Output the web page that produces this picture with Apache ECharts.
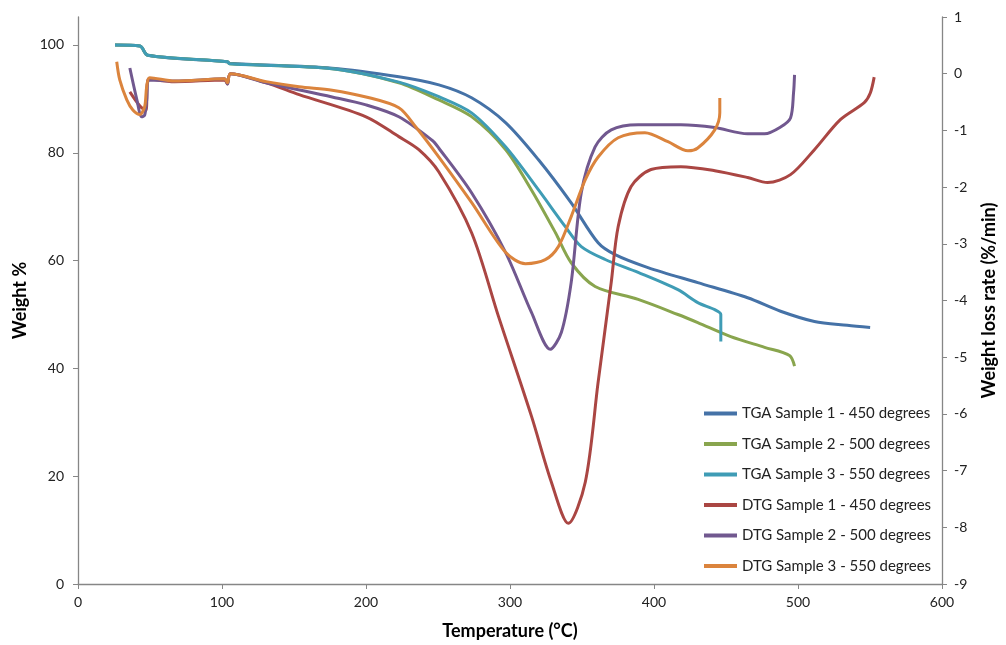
<!DOCTYPE html>
<html>
<head>
<meta charset="utf-8">
<script src="https://cdn.jsdelivr.net/npm/echarts@6/dist/echarts.min.js"></script>
<style>html,body{margin:0;padding:0;background:#fff}#c{width:1006px;height:645px}</style>
</head>
<body>
<div id="c"></div>
<script>
// Temperature (°C) and values
var tga1T = [25.7, 43.0, 48.4, 103.8, 105.2, 176.5, 222.8, 250.6, 273.3, 296.9, 319.8, 342.5, 361.2, 373.0, 395.8, 430.4, 465.0, 487.9, 511.4, 534.2, 550.1];
var tga1W = [100, 99.8, 98.1, 96.9, 96.6, 95.7, 94.1, 92.6, 90.2, 85.6, 78.7, 70.7, 63.3, 61.1, 58.7, 55.9, 53.1, 50.6, 48.7, 48.0, 47.6];

var tga2T = [25.7, 43.0, 48.4, 103.8, 105.2, 176.5, 222.8, 250.6, 273.3, 296.9, 314.9, 331.5, 342.5, 359.1, 389.0, 416.6, 430.4, 453.3, 476.8, 494.1, 497.6];
var tga2W = [100, 99.8, 98.1, 96.9, 96.5, 95.6, 93.0, 89.8, 86.7, 80.6, 73.1, 65.2, 59.6, 55.2, 52.8, 50.0, 48.5, 45.9, 43.9, 42.4, 40.4];

var tga3T = [25.7, 43.0, 48.4, 103.8, 105.2, 176.5, 222.8, 250.6, 273.3, 296.9, 319.8, 338.4, 349.5, 366.1, 389.0, 416.6, 430.4, 442.2, 446.4, 446.4];
var tga3W = [100, 99.8, 98.1, 96.9, 96.5, 95.6, 93.1, 90.4, 87.4, 81.1, 73.1, 66.3, 62.6, 60.2, 57.8, 54.6, 52.2, 50.9, 50.0, 45.0];

var dtg1T = [36.0, 43.0, 47.0, 49.1, 67.1, 101.7, 103.8, 105.9, 130.7, 153.6, 200.0, 222.8, 236.7, 250.5, 273.4, 292.0, 314.9, 328.7, 340.5, 352.3, 361.2, 370.3, 375.1, 384.1, 397.9, 418.7, 442.2, 465.0, 478.9, 494.8, 511.4, 529.4, 546.0, 550.2, 552.9];
var dtg1R = [-0.32, -0.57, -0.65, -0.09, -0.14, -0.11, -0.18, 0.0, -0.16, -0.37, -0.76, -1.11, -1.34, -1.73, -2.81, -4.28, -6.04, -7.20, -7.93, -7.20, -5.44, -3.68, -2.70, -1.99, -1.69, -1.64, -1.71, -1.83, -1.92, -1.78, -1.34, -0.81, -0.51, -0.34, -0.06];

var dtg2T = [36.0, 40.9, 44.2, 46.3, 47.7, 49.1, 67.1, 101.7, 103.8, 105.9, 130.7, 176.5, 200.0, 222.8, 245.7, 250.5, 273.3, 296.9, 314.9, 328.0, 335.7, 342.5, 349.5, 359.1, 370.3, 389.0, 418.7, 442.2, 465.0, 476.8, 487.9, 494.8, 496.9, 497.6];
var dtg2R = [0.10, -0.46, -0.76, -0.73, -0.46, -0.11, -0.13, -0.09, -0.18, 0.0, -0.16, -0.41, -0.55, -0.76, -1.17, -1.31, -2.10, -3.15, -4.21, -4.86, -4.56, -3.68, -2.10, -1.29, -0.99, -0.90, -0.90, -0.95, -1.06, -1.06, -0.94, -0.78, -0.34, -0.02];

var dtg3T = [26.9, 29.0, 33.9, 38.1, 43.0, 46.3, 47.7, 49.8, 67.1, 101.7, 103.8, 105.9, 130.7, 153.6, 176.5, 200.0, 222.8, 234.6, 250.6, 273.3, 296.9, 310.7, 324.5, 333.6, 342.5, 352.3, 361.2, 375.1, 393.7, 409.7, 423.6, 430.4, 442.2, 445.7, 445.7];
var dtg3R = [0.21, -0.11, -0.46, -0.64, -0.72, -0.58, -0.23, -0.07, -0.13, -0.09, -0.16, 0.0, -0.14, -0.23, -0.29, -0.41, -0.60, -0.94, -1.47, -2.27, -3.15, -3.35, -3.28, -3.05, -2.52, -1.87, -1.47, -1.13, -1.04, -1.20, -1.36, -1.31, -0.99, -0.69, -0.43];

var seriesNames = ['TGA Sample 1 - 450 degrees', 'TGA Sample 2 - 500 degrees', 'TGA Sample 3 - 550 degrees',
                   'DTG Sample 1 - 450 degrees', 'DTG Sample 2 - 500 degrees', 'DTG Sample 3 - 550 degrees'];
var leftTicks = [0, 20, 40, 60, 80, 100];

function zip(a, b) { return a.map(function (v, i) { return [v, b[i]]; }); }

var colors = ['#4572A7', '#89A54E', '#3F9CB5', '#AA4643', '#71588F', '#DB843D'];
var xs = [tga1T, tga2T, tga3T, dtg1T, dtg2T, dtg3T];
var ys = [tga1W, tga2W, tga3W, dtg1R, dtg2R, dtg3R];

var series = seriesNames.map(function (n, i) {
  return {
    name: n, type: 'line', yAxisIndex: i < 3 ? 0 : 1,
    data: zip(xs[i], ys[i]), showSymbol: false, symbol: 'none',
    smooth: 0.3, lineStyle: { width: 3, color: colors[i] }, itemStyle: { color: colors[i] }
  };
});

var FONT = 'Lato';
var chart = echarts.init(document.getElementById('c'));
chart.setOption({
  animation: false,
  textStyle: { fontFamily: FONT },
  grid: { left: 78, right: 61, top: 17, bottom: 60, containLabel: false },
  legend: {
    orient: 'vertical', left: 699, top: 400, itemWidth: 33, itemHeight: 4, itemGap: 13.5,
    icon: 'rect',
    textStyle: { fontSize: 15, color: '#222', fontFamily: FONT, lineHeight: 17 },
    data: seriesNames
  },
  xAxis: {
    type: 'value', min: 0, max: 600, interval: 100,
    name: 'Temperature (°C)', nameLocation: 'middle', nameGap: 38,
    nameTextStyle: { fontSize: 18, fontWeight: 'bold', color: '#000', fontFamily: FONT },
    axisLine: { lineStyle: { color: '#868686', width: 1.3 } },
    axisTick: { show: true, length: 5, lineStyle: { color: '#868686' } },
    axisLabel: { fontSize: 14, color: '#222', margin: 11 },
    splitLine: { show: false }
  },
  yAxis: [{
    type: 'value', min: 0, max: 105.19, position: 'left',
    name: 'Weight %', nameLocation: 'middle', nameGap: 49,
    nameTextStyle: { fontSize: 18, fontWeight: 'bold', color: '#000', fontFamily: FONT },
    axisLine: { show: true, lineStyle: { color: '#868686', width: 1.3 } },
    axisTick: { show: true, length: 5, customValues: leftTicks, lineStyle: { color: '#868686' } },
    axisLabel: { fontSize: 14, color: '#222', margin: 14, customValues: leftTicks },
    splitLine: { show: false }
  }, {
    type: 'value', min: -9, max: 1, interval: 1, position: 'right',
    name: 'Weight loss rate (%/min)', nameLocation: 'middle', nameGap: 38,
    nameTextStyle: { fontSize: 18, fontWeight: 'bold', color: '#000', fontFamily: FONT },
    axisLine: { show: true, lineStyle: { color: '#868686', width: 1.3 } },
    axisTick: { show: true, length: 5, lineStyle: { color: '#868686' } },
    axisLabel: { fontSize: 14, color: '#222', margin: 12 },
    splitLine: { show: false }
  }],
  series: series
});
</script>
</body>
</html>
